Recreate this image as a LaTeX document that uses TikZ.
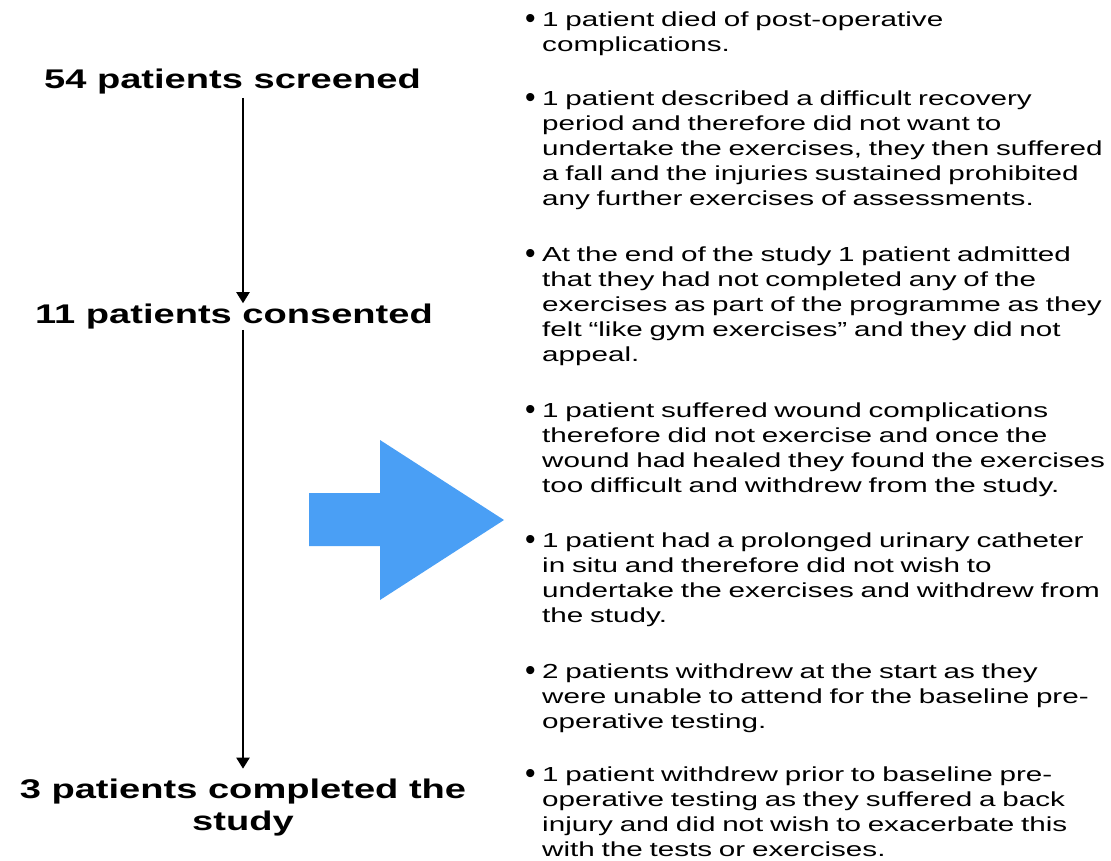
\documentclass[tikz,border=0pt]{standalone}
\usepackage{fontspec}
\usepackage{tikz}
\usetikzlibrary{positioning}
\usetikzlibrary{arrows.meta}
\newfontfamily\headfont[FakeStretch=1.41]{Liberation Sans Bold}
\newfontfamily\itemfont[FakeStretch=1.46]{Liberation Sans}
\newfontfamily\dotfont{Liberation Sans}
\definecolor{keyblue}{RGB}{74,159,245}
\newcommand{\bul}{\llap{\raisebox{-2.5pt}{\dotfont\fontsize{30}{30}\selectfont •}\hspace{6.5pt}}}

\begin{document}
\begin{tikzpicture}[x=1pt, y=-1pt,
    head/.style = {inner sep=0pt, font=\headfont\fontsize{27}{32.5}\selectfont},
    item/.style = {anchor=base west, inner sep=0pt, text width=570pt, align=left, font=\itemfont\fontsize{20.3}{25.2}\selectfont},
    flow/.style = {draw, line width=2pt, -{Triangle[width=13pt,length=11pt]}}]
        \useasboundingbox (0,0) rectangle (1111,860);
        \node[head, anchor=base] (screened) at (232.5,88) {54 patients screened};
        \node[head, anchor=base] (consented) at (234,323) {11 patients consented};
        \node[head, anchor=north, align=center] (completed) at (243,778.7) {3 patients completed the\\study};
        \draw[flow, shorten <=4pt] (screened.south -| completed) -- (consented.north -| completed);
        \draw[flow, shorten <=1pt, shorten >=10pt] (consented.south -| completed) -- (completed.north);
        % big blue arrow
        \fill[keyblue] (309,493) -- (380,493) -- (380,440) -- (504,520) -- (380,600) -- (380,546) -- (309,546) -- cycle;
        % reasons for dropping out
        \node[item] (died) at (542,26) {\bul 1 patient died of post-operative\\complications.};
        \node[item] (fall) at (542,105) {\bul 1 patient described a difficult recovery\\period and therefore did not want to\\undertake the exercises, they then suffered\\a fall and the injuries sustained prohibited\\any further exercises of assessments.};
        \node[item] (gym) at (542,261) {\bul At the end of the study 1 patient admitted\\that they had not completed any of the\\exercises as part of the programme as they\\felt “like gym exercises” and they did not\\appeal.};
        \node[item] (wound) at (542,417) {\bul 1 patient suffered wound complications\\therefore did not exercise and once the\\wound had healed they found the exercises\\too difficult and withdrew from the study.};
        \node[item] (catheter) at (542,547) {\bul 1 patient had a prolonged urinary catheter\\in situ and therefore did not wish to\\undertake the exercises and withdrew from\\the study.};
        \node[item] (baseline) at (542,678) {\bul 2 patients withdrew at the start as they\\were unable to attend for the baseline pre-\\operative testing.};
        \node[item] (back) at (542,781) {\bul 1 patient withdrew prior to baseline pre-\\operative testing as they suffered a back\\injury and did not wish to exacerbate this\\with the tests or exercises.};
    \end{tikzpicture}
\end{document}
